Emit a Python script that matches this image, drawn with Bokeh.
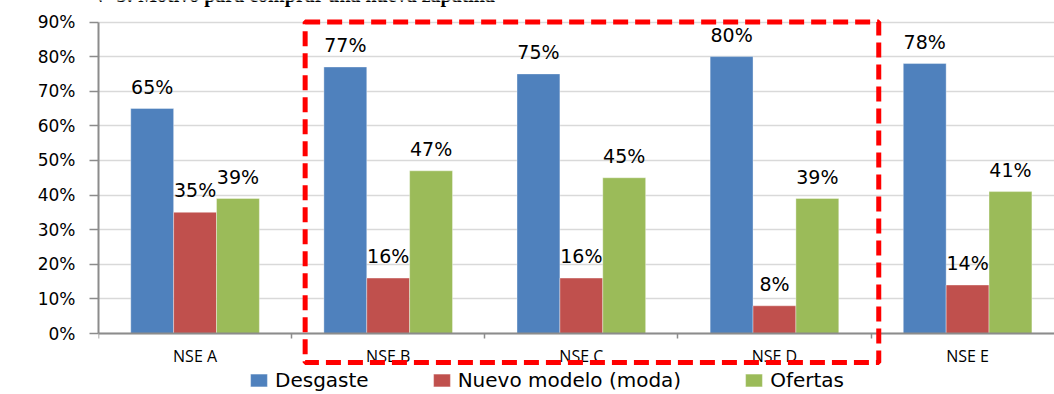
from bokeh.plotting import figure
from bokeh.models import (ColumnDataSource, FixedTicker, Legend, LegendItem,
                          BoxAnnotation, Label, Range1d)
from bokeh.core.properties import value
from bokeh.embed import file_html
from bokeh.resources import INLINE

# --- data -------------------------------------------------------------
categories = ["NSE A", "NSE B", "NSE C", "NSE D", "NSE E"]
series_names = ["Desgaste", "Nuevo modelo (moda)", "Ofertas"]
desgaste = [65, 77, 75, 80, 78]
nuevo_modelo = [35, 16, 16, 8, 14]
ofertas = [39, 47, 45, 39, 41]
y_ticks = [0, 10, 20, 30, 40, 50, 60, 70, 80, 90]
title_text = "Gráfico N° 5: Motivo para comprar una nueva zapatilla"
highlight_first, highlight_last = "NSE B", "NSE D"

colors = ["#4F81BD", "#C0504D", "#9BBB59"]
series_values = [desgaste, nuevo_modelo, ofertas]

FONT = "DejaVu Sans"
idx = list(range(len(categories)))
bar_w = 0.222

# The frame fills the whole height so that the axis labels, legend and the
# dashed box below the zero line are not clipped.
H, W = 394, 1054
zero_px, top_px = 333, 21.5          # pixel rows of 0 % and 90 %
unit = (zero_px - top_px) / y_ticks[-1]
y_lo = -(H - zero_px) / unit
y_hi = y_ticks[-1] + top_px / unit

p = figure(width=W, height=H, output_backend="svg", toolbar_location=None,
           x_range=Range1d(-0.5, 4.45), y_range=Range1d(y_lo, y_hi),
           min_border_left=98, min_border_right=0, min_border_top=0,
           min_border_bottom=0)
p.outline_line_color = None
p.background_fill_color = "white"
p.border_fill_color = "white"

# grid
p.xgrid.visible = False
p.ygrid.ticker = FixedTicker(ticks=y_ticks)
p.ygrid.grid_line_color = "#D9D9D9"
p.ygrid.grid_line_width = 1.3

# y axis
p.yaxis.ticker = FixedTicker(ticks=y_ticks)
p.yaxis.bounds = (y_ticks[0], y_ticks[-1])
p.yaxis.major_label_overrides = {t: f"{t}%" for t in y_ticks}
p.yaxis.axis_line_color = "#8C8C8C"
p.yaxis.axis_line_width = 2
p.yaxis.major_tick_line_color = "#8C8C8C"
p.yaxis.major_tick_line_width = 1.5
p.yaxis.major_tick_out = 9
p.yaxis.major_tick_in = 0
p.yaxis.minor_tick_line_color = None
p.yaxis.major_label_standoff = 14
p.yaxis.major_label_text_font = FONT
p.yaxis.major_label_text_font_size = "17px"
p.yaxis.major_label_text_color = "black"

# x axis sits on the zero line: labels at group centres, ticks between groups
p.xaxis.fixed_location = 0
p.xaxis.ticker = FixedTicker(ticks=idx, minor_ticks=[i - 0.5 for i in range(len(categories) + 1)])
p.xaxis.major_label_overrides = {i: c for i, c in enumerate(categories)}
p.xaxis.axis_line_color = "#8C8C8C"
p.xaxis.axis_line_width = 2
p.xaxis.major_tick_line_color = None
p.xaxis.major_tick_out = 0
p.xaxis.major_tick_in = 0
p.xaxis.minor_tick_line_color = "#8C8C8C"
p.xaxis.minor_tick_line_width = 1.5
p.xaxis.minor_tick_out = 5
p.xaxis.minor_tick_in = 0
p.xaxis.major_label_standoff = 6
p.xaxis.major_label_text_font = "Open Sans"
p.xaxis.major_label_text_font_size = "16px"
p.xaxis.major_label_text_color = "black"

# bars and value labels
renderers = []
for k, (vals, color) in enumerate(zip(series_values, colors)):
    offset = (k - 1) * bar_w
    src = ColumnDataSource(dict(
        x=[i + offset for i in idx],
        top=vals,
        label=[f"{v}%" for v in vals],
    ))
    r = p.vbar(x="x", top="top", width=bar_w, source=src,
               fill_color=color, line_color="white", line_width=0.6, line_alpha=0.6)
    renderers.append(r)
    p.text(x="x", y="top", text="label", source=src,
           text_align="center", text_baseline="alphabetic", y_offset=-22,
           text_font=value(FONT), text_font_size="19px", text_color="black")

# dashed frame around the middle groups
box = BoxAnnotation(left=categories.index(highlight_first) - 0.43,
                    right=categories.index(highlight_last) + 0.54,
                    top=y_ticks[-1], bottom=-8.4,
                    fill_alpha=0, line_color="#FF0000", line_alpha=1.0,
                    line_width=5, line_dash="15 7")
p.add_layout(box)

# legend under the category labels
legend = Legend(items=[LegendItem(label=n, renderers=[r]) for n, r in zip(series_names, renderers)],
                orientation="horizontal", location=(150, 2),
                glyph_width=21, glyph_height=16, label_standoff=6, spacing=62,
                padding=0, margin=0, border_line_alpha=0, background_fill_alpha=0,
                label_text_font=FONT, label_text_font_size="20px", label_text_color="black")
p.add_layout(legend)

# heading, mostly cut by the top edge of the page
p.add_layout(Label(x=-80, y=400, x_units="screen", y_units="screen", text=title_text,
                   text_font="Liberation Serif", text_font_style="bold",
                   text_font_size="20px", text_color="black", text_baseline="alphabetic"))

open("out.html", "w").write(file_html(p, INLINE))
